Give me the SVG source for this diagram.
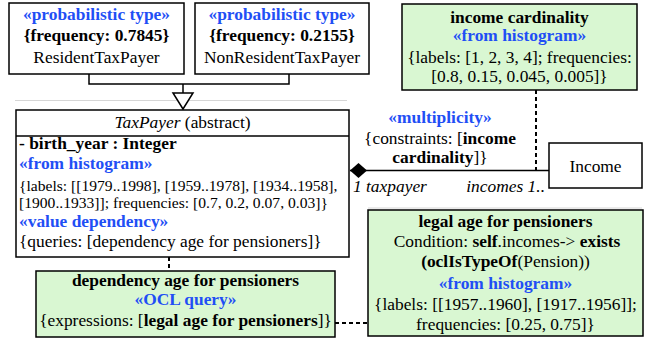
<svg xmlns="http://www.w3.org/2000/svg" width="652" height="341" viewBox="0 0 652 341">
<style>
text{font-family:'Liberation Serif','Times New Roman',serif;font-size:17.4px;fill:#000}
.c{text-anchor:middle}
.b{font-weight:bold}
.st{font-weight:bold;fill:#1f4ff5}
.sm{font-size:15.6px}
.i{font-style:italic}
.box{fill:#fff;stroke:#000;stroke-width:1.5}
.note{fill:#d9f7d2;stroke:#000;stroke-width:1.5}
.ln{fill:none;stroke:#000;stroke-width:1.5}
.dash{fill:none;stroke:#000;stroke-width:2;stroke-dasharray:4 3}
.faint{stroke:#d6d6d6;stroke-width:1}
</style>
<line class="faint" x1="15" y1="100.5" x2="347" y2="100.5"/>
<line class="faint" x1="368" y1="208" x2="642" y2="208"/>
<g id="connectors">
<polyline class="ln" points="89,74 89,84 289,84 289,74"/>
<line class="ln" x1="183" y1="84" x2="183" y2="93"/>
<polygon points="173,93 193,93 183,109" fill="#fff" stroke="#000" stroke-width="1.5"/>
<line class="ln" x1="350" y1="170.5" x2="549" y2="170.5"/>
<polygon points="350,170.5 358.5,163 367,170.5 358.5,178" fill="#000"/>
<line class="dash" x1="536" y1="90" x2="536" y2="170"/>
<line class="dash" x1="169" y1="257" x2="169" y2="271"/>
<line class="dash" x1="335" y1="323" x2="368" y2="323"/>
<text class="st c" x="440" y="123">«multiplicity»</text>
<text class="c" x="440" y="144">{constraints: [<tspan class="b">income</tspan></text>
<text class="c" x="440" y="163"><tspan class="b">cardinality</tspan>]}</text>
<text class="i" x="353" y="192">1 taxpayer</text>
<text class="i" x="545" y="192" text-anchor="end">incomes 1..</text>
</g>
<g id="resident">
<rect class="box" x="9" y="3" width="175" height="71"/>
<text class="st c" x="96.5" y="20">«probabilistic type»</text>
<text class="b c" x="96.5" y="41">{frequency: 0.7845}</text>
<text class="c" x="96.5" y="63">ResidentTaxPayer</text>
</g>
<g id="nonresident">
<rect class="box" x="195" y="3" width="174" height="71"/>
<text class="st c" x="282" y="20">«probabilistic type»</text>
<text class="b c" x="282" y="41">{frequency: 0.2155}</text>
<text class="c" x="282" y="63">NonResidentTaxPayer</text>
</g>
<g id="incomecard">
<rect class="note" x="402" y="4" width="235" height="86"/>
<text class="b c" x="519.5" y="23">income cardinality</text>
<text class="st c" x="519.5" y="41">«from histogram»</text>
<text class="c" x="519.5" y="63">{labels: [1, 2, 3, 4]; frequencies:</text>
<text class="c" x="519.5" y="82">[0.8, 0.15, 0.045, 0.005]}</text>
</g>
<g id="taxpayer">
<rect class="box" x="16" y="110" width="333" height="147"/>
<line class="ln" x1="16" y1="136" x2="349" y2="136"/>
<text class="c" x="182.5" y="128"><tspan class="i">TaxPayer</tspan> (abstract)</text>
<text class="b" x="19" y="149">- birth_year : Integer</text>
<text class="st" x="19" y="169">«from histogram»</text>
<text class="sm" x="19" y="191">{labels: [[1979..1998], [1959..1978], [1934..1958],</text>
<text class="sm" x="19" y="208">[1900..1933]]; frequencies: [0.7, 0.2, 0.07, 0.03]}</text>
<text class="st" x="19" y="227">«value dependency»</text>
<text x="19" y="247">{queries: [dependency age for pensioners]}</text>
</g>
<g id="income">
<rect class="box" x="549" y="143" width="93" height="45"/>
<text class="c" x="595.5" y="172">Income</text>
</g>
<g id="dependency">
<rect class="note" x="36" y="271" width="299" height="66"/>
<text class="b c" x="185.5" y="286">dependency age for pensioners</text>
<text class="st c" x="185.5" y="305">«OCL query»</text>
<text class="c" x="185.5" y="326">{expressions: [<tspan class="b">legal age for pensioners</tspan>]}</text>
</g>
<g id="legalage">
<rect class="note" x="368" y="210" width="275" height="126"/>
<text class="b c" x="505.5" y="227">legal age for pensioners</text>
<text class="c" x="507" y="247">Condition: <tspan class="b">self</tspan>.incomes-&gt; <tspan class="b">exists</tspan></text>
<text class="c" x="505.5" y="267"><tspan class="b">(oclIsTypeOf</tspan>(Pension))</text>
<text class="st c" x="505.5" y="289">«from histogram»</text>
<text class="c" x="505.5" y="310">{labels: [[1957..1960], [1917..1956]];</text>
<text class="c" x="505.5" y="330">frequencies: [0.25, 0.75]}</text>
</g>
</svg>
